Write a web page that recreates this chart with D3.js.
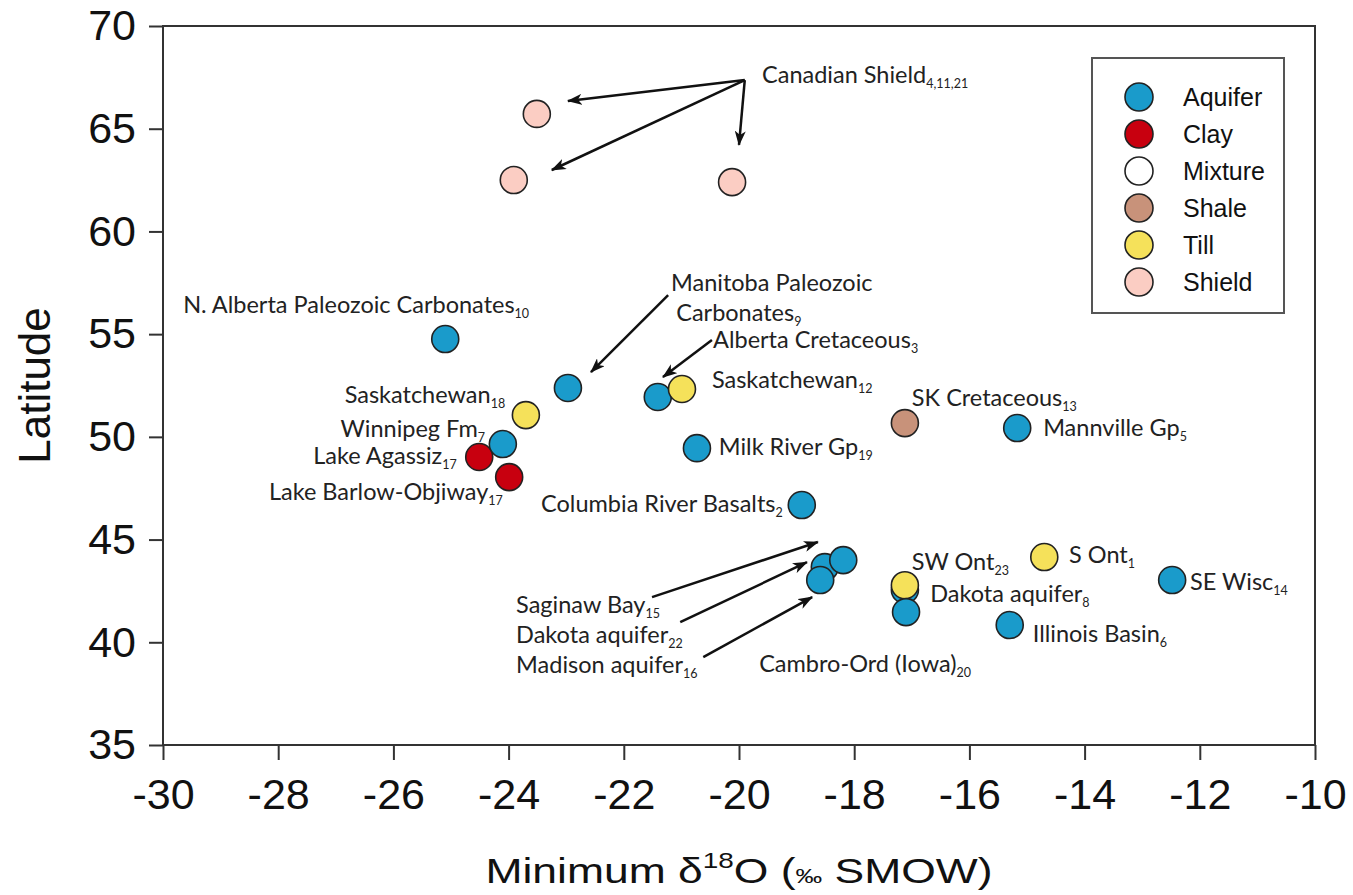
<!DOCTYPE html>
<html><head><meta charset="utf-8">
<script src="https://cdn.jsdelivr.net/npm/d3@7"></script>
<style>body{margin:0;background:#fff}</style>
</head><body>
<svg id="chart" width="1353" height="895"></svg>
<script>
// ---------- data ----------
const sites = ["N. Alberta Paleozoic Carbonates","Canadian Shield a","Canadian Shield b","Canadian Shield c",
  "Lake Agassiz","Winnipeg Fm","Lake Barlow-Objiway","Saskatchewan 18","Manitoba Paleozoic Carbonates",
  "Alberta Cretaceous","Saskatchewan 12","Milk River Gp","Columbia River Basalts","SK Cretaceous",
  "Mannville Gp","Dakota aquifer 22","Saginaw Bay","Madison aquifer","Dakota aquifer 8","SW Ont",
  "Cambro-Ord (Iowa)","S Ont","SE Wisc","Illinois Basin"];
const d18O = [-25.10,-23.51,-23.91,-20.12,-24.51,-24.10,-23.99,-23.70,-22.97,-21.41,-20.99,-20.73,-18.91,-17.12,
  -15.17,-18.51,-18.19,-18.59,-17.12,-17.12,-17.10,-14.70,-12.48,-15.30];
const latitude = [54.76,65.72,62.50,62.40,49.02,49.65,48.04,51.06,52.38,51.94,52.33,49.45,46.68,50.67,
  50.43,43.66,44.00,43.03,42.55,42.78,41.47,44.15,43.03,40.84];
const siteType = ["Aquifer","Shield","Shield","Shield","Clay","Aquifer","Clay","Till","Aquifer","Aquifer","Till",
  "Aquifer","Aquifer","Shale","Aquifer","Aquifer","Aquifer","Aquifer","Aquifer","Till","Aquifer","Till","Aquifer","Aquifer"];

const categories = ["Aquifer","Clay","Mixture","Shale","Till","Shield"];
const categoryColors = ["#1a9bcb","#c8000f","#ffffff","#c8927a","#f5e15a","#fbcdc3"];

const xTicks = [-30,-28,-26,-24,-22,-20,-18,-16,-14,-12,-10];
const yTicks = [35,40,45,50,55,60,65,70];

// labels: text, subscript, anchor point (data units), text anchor
const labelText = ["N. Alberta Paleozoic Carbonates","Saskatchewan","Winnipeg Fm","Lake Agassiz","Lake Barlow-Objiway",
  "Canadian Shield","Manitoba Paleozoic","Carbonates","Alberta Cretaceous","Saskatchewan","SK Cretaceous",
  "Milk River Gp","Columbia River Basalts","Mannville Gp","S Ont","SE Wisc","Illinois Basin","SW Ont",
  "Dakota aquifer","Saginaw Bay","Dakota aquifer","Madison aquifer","Cambro-Ord (Iowa)"];
const labelSub = ["10","18","7","17","17","4,11,21","","9","3","12","13","19","2","5","1","14","6","23","8","15","22","16","20"];
const labelX = [-29.65,-24.06,-24.41,-24.90,-24.10,-19.60,-21.18,-21.09,-20.45,-20.47,-17.00,-20.35,-19.24,
  -14.72,-14.27,-12.17,-14.90,-17.00,-16.68,-23.87,-23.87,-23.87,-19.65];
const labelY = [56.03,51.65,49.99,48.68,46.92,67.22,57.10,55.65,54.33,52.38,51.50,49.11,46.34,
  50.05,43.86,42.54,40.01,43.51,41.96,41.42,39.96,38.50,38.55];
const labelAnchor = ["start","end","end","end","end","start","start","start","start","start","start",
  "start","end","start","start","start","start","start","start","start","start","start","start"];

// arrows (data units)
const arrowX1 = [-19.90,-19.90,-19.90,-21.23,-20.47,-21.51,-21.02,-20.62];
const arrowY1 = [67.37,67.37,67.37,56.90,54.71,42.20,40.98,39.28];
const arrowX2 = [-22.97,-23.25,-20.00,-22.57,-21.32,-18.63,-18.82,-18.73];
const arrowY2 = [66.35,62.99,64.21,53.15,52.91,44.88,43.90,42.20];

// ---------- chart ----------
const svg = d3.select("#chart");
const pL = 163, pR = 1315, pT = 26, pB = 745;
const x = d3.scaleLinear().domain([-30,-10]).range([pL,pR]);
const y = d3.scaleLinear().domain([35,70]).range([pB,pT]);
const color = d3.scaleOrdinal().domain(categories).range(categoryColors);
const axisFont = "'Liberation Sans', Arial, Helvetica, sans-serif";
const labelFont = "Lato, 'Open Sans', sans-serif";

// frame
svg.append("rect").attr("x",pL).attr("y",pT).attr("width",pR-pL).attr("height",pB-pT)
  .attr("fill","none").attr("stroke","#333").attr("stroke-width",2);

const gx = svg.append("g").attr("transform",`translate(0,${pB})`)
  .call(d3.axisBottom(x).tickValues(xTicks).tickSize(15).tickSizeOuter(0).tickPadding(18));
const gy = svg.append("g").attr("transform",`translate(${pL},0)`)
  .call(d3.axisLeft(y).tickValues(yTicks).tickSize(14).tickSizeOuter(0).tickPadding(13));
[gx,gy].forEach(g=>{
  g.select(".domain").remove();
  g.selectAll(".tick line").attr("stroke","#333").attr("stroke-width",2);
  g.selectAll(".tick text").attr("font-family",axisFont).attr("font-size",43).attr("fill","#111")
    .text(d=>String(d));
});

// axis titles (x title is horizontally stretched in the original)
const xt = svg.append("text").attr("transform",`translate(${(pL+pR)/2},883) scale(1.27,1)`)
  .attr("text-anchor","middle").attr("font-family",axisFont).attr("font-size",35).attr("fill","#111");
xt.append("tspan").text("Minimum δ");
xt.append("tspan").attr("font-size",22).attr("dy",-15).text("18");
xt.append("tspan").attr("dy",15).text("O (");
xt.append("tspan").attr("font-size",21).text("‰");
xt.append("tspan").text(" SMOW)");

svg.append("text").attr("transform",`translate(50,${(pT+pB)/2}) rotate(-90)`).attr("text-anchor","middle")
  .attr("font-family",axisFont).attr("font-size",44).attr("fill","#111").text("Latitude");

// arrows
const defs = svg.append("defs");
defs.append("marker").attr("id","ah").attr("viewBox","0 0 15 11").attr("refX",14).attr("refY",5.5)
  .attr("markerWidth",15).attr("markerHeight",11).attr("markerUnits","userSpaceOnUse").attr("orient","auto")
  .append("path").attr("d","M0,0 L15,5.5 L0,11 L4,5.5 Z").attr("fill","#111");
svg.append("g").selectAll("line").data(d3.range(arrowX1.length)).join("line")
  .attr("x1",i=>x(arrowX1[i])).attr("y1",i=>y(arrowY1[i]))
  .attr("x2",i=>x(arrowX2[i])).attr("y2",i=>y(arrowY2[i]))
  .attr("stroke","#111").attr("stroke-width",2.5).attr("marker-end","url(#ah)");

// points
svg.append("g").selectAll("circle").data(d3.range(sites.length)).join("circle")
  .attr("cx",i=>x(d18O[i])).attr("cy",i=>y(latitude[i])).attr("r",13.5)
  .attr("fill",i=>color(siteType[i])).attr("stroke","#222").attr("stroke-width",1.6);

// labels
const lg = svg.append("g").attr("font-family",labelFont).attr("font-size",23.5).attr("fill","#222");
labelText.forEach((t,i)=>{
  const tx = lg.append("text").attr("x",x(labelX[i])).attr("y",y(labelY[i])).attr("text-anchor",labelAnchor[i]);
  tx.append("tspan").text(t);
  if(labelSub[i]) tx.append("tspan").attr("font-size",12.5).attr("dy",5).text(labelSub[i]);
});

// legend
const leg = svg.append("g");
leg.append("rect").attr("x",1092).attr("y",58).attr("width",192).attr("height",255)
  .attr("fill","#fff").attr("stroke","#555").attr("stroke-width",2);
categories.forEach((c,i)=>{
  const cy = 97 + i*37;
  leg.append("circle").attr("cx",1139).attr("cy",cy).attr("r",14).attr("fill",color(c))
    .attr("stroke","#222").attr("stroke-width",1.6);
  leg.append("text").attr("x",1183).attr("y",cy+9).attr("font-family",axisFont).attr("font-size",25)
    .attr("fill","#111").text(c);
});
</script>
</body></html>
